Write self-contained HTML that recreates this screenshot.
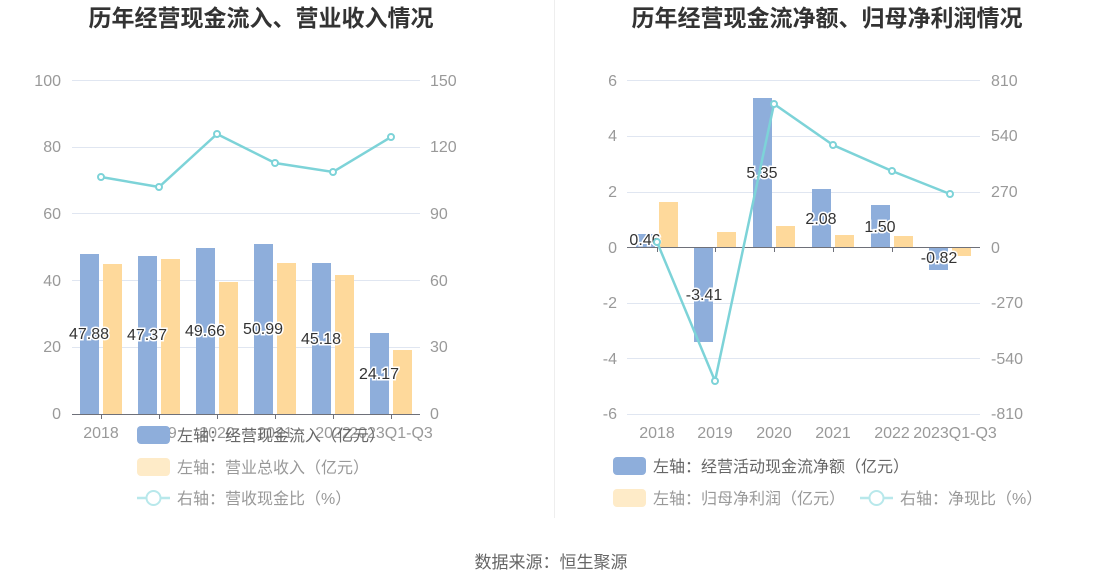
<!DOCTYPE html>
<html><head><meta charset="utf-8"><style>
body{margin:0;background:#fff;}
svg{display:block;font-family:"Liberation Sans","Noto Sans CJK SC",sans-serif;}
</style></head><body>
<svg width="1102" height="588" viewBox="0 0 1102 588">
<text x="261" y="26" text-anchor="middle" font-size="23" font-weight="bold" fill="#333">历年经营现金流入、营业收入情况</text>
<text x="827" y="26" text-anchor="middle" font-size="23" font-weight="bold" fill="#333">历年经营现金流净额、归母净利润情况</text>
<line x1="554.5" y1="0" x2="554.5" y2="518" stroke="#eee"/>
<g stroke="#e0e6f1" stroke-width="1">
<line x1="72" y1="80.5" x2="420" y2="80.5"/><line x1="72" y1="147.5" x2="420" y2="147.5"/><line x1="72" y1="213.5" x2="420" y2="213.5"/><line x1="72" y1="280.5" x2="420" y2="280.5"/><line x1="72" y1="347.5" x2="420" y2="347.5"/>
</g>
<g font-size="16" fill="#999" text-anchor="end">
<text x="61" y="86">100</text><text x="61" y="152">80</text><text x="61" y="219">60</text><text x="61" y="286">40</text><text x="61" y="352">20</text><text x="61" y="419">0</text>
</g>
<g font-size="16" fill="#999" text-anchor="start">
<text x="430" y="86">150</text><text x="430" y="152">120</text><text x="430" y="219">90</text><text x="430" y="286">60</text><text x="430" y="352">30</text><text x="430" y="419">0</text>
</g>
<g fill="#8eaedb">
<rect x="80" y="254" width="19" height="160"/><rect x="138" y="256" width="19" height="158"/><rect x="196" y="248" width="19" height="166"/><rect x="254" y="244" width="19" height="170"/><rect x="312" y="263" width="19" height="151"/><rect x="370" y="333" width="19" height="81"/>
</g>
<g fill="#fed99b">
<rect x="103" y="264" width="19" height="150"/><rect x="161" y="259" width="19" height="155"/><rect x="219" y="282" width="19" height="132"/><rect x="277" y="263" width="19" height="151"/><rect x="335" y="275" width="19" height="139"/><rect x="393" y="350" width="19" height="64"/>
</g>
<line x1="72" y1="414.5" x2="420" y2="414.5" stroke="#6e7079"/>
<g stroke="#6e7079"><line x1="101.5" y1="414" x2="101.5" y2="419"/><line x1="159.5" y1="414" x2="159.5" y2="419"/><line x1="217.5" y1="414" x2="217.5" y2="419"/><line x1="275.5" y1="414" x2="275.5" y2="419"/><line x1="333.5" y1="414" x2="333.5" y2="419"/><line x1="391.5" y1="414" x2="391.5" y2="419"/></g>
<g font-size="16" fill="#999" text-anchor="middle">
<text x="101" y="438">2018</text><text x="159" y="438">2019</text><text x="217" y="438">2020</text><text x="275" y="438">2021</text><text x="333" y="438">2022</text><text x="391" y="438">2023Q1-Q3</text>
</g>
<g font-size="16" fill="#333" text-anchor="middle" stroke="#fff" stroke-width="3" paint-order="stroke">
<text x="89" y="339">47.88</text><text x="147" y="340">47.37</text><text x="205" y="336">49.66</text><text x="263" y="334">50.99</text><text x="321" y="344">45.18</text><text x="379" y="379">24.17</text>
</g>
<polyline points="101,177 159,187 217,134 275,163 333,172 391,137" fill="none" stroke="#7dd3d8" stroke-width="2.5"/>
<g fill="#fff" stroke="#7dd3d8" stroke-width="2"><circle cx="101" cy="177" r="3"/><circle cx="159" cy="187" r="3"/><circle cx="217" cy="134" r="3"/><circle cx="275" cy="163" r="3"/><circle cx="333" cy="172" r="3"/><circle cx="391" cy="137" r="3"/></g>
<rect x="137" y="426" width="33" height="18" rx="4" fill="#8eaedb"/>
<text x="177" y="441" font-size="16" fill="#666">左轴：经营现金流入（亿元）</text>
<rect x="137" y="458" width="33" height="18" rx="4" fill="#feebc8"/>
<text x="177" y="473" font-size="16" fill="#999">左轴：营业总收入（亿元）</text>
<line x1="137" y1="498" x2="170" y2="498" stroke="#b8e8eb" stroke-width="2.5"/><circle cx="153.5" cy="498" r="7" fill="#fff" stroke="#b8e8eb" stroke-width="2"/>
<text x="177" y="504" font-size="16" fill="#999">右轴：营收现金比（%）</text>

<g stroke="#e0e6f1" stroke-width="1">
<line x1="627" y1="80.5" x2="980" y2="80.5"/><line x1="627" y1="136.5" x2="980" y2="136.5"/><line x1="627" y1="192.5" x2="980" y2="192.5"/><line x1="627" y1="303.5" x2="980" y2="303.5"/><line x1="627" y1="358.5" x2="980" y2="358.5"/><line x1="627" y1="414.5" x2="980" y2="414.5"/>
</g>
<g font-size="16" fill="#999" text-anchor="end">
<text x="617" y="86">6</text><text x="617" y="141">4</text><text x="617" y="197">2</text><text x="617" y="253">0</text><text x="617" y="308">-2</text><text x="617" y="364">-4</text><text x="617" y="419">-6</text>
</g>
<g font-size="16" fill="#999" text-anchor="start">
<text x="991" y="86">810</text><text x="991" y="141">540</text><text x="991" y="197">270</text><text x="991" y="253">0</text><text x="991" y="308">-270</text><text x="991" y="364">-540</text><text x="991" y="419">-810</text>
</g>
<g fill="#8eaedb">
<rect x="636" y="234" width="19" height="13"/><rect x="694" y="247" width="19" height="95"/><rect x="753" y="98" width="19" height="149"/><rect x="812" y="189" width="19" height="58"/><rect x="871" y="205" width="19" height="42"/><rect x="929" y="247" width="19" height="23"/>
</g>
<g fill="#fed99b">
<rect x="659" y="202" width="19" height="45"/><rect x="717" y="232" width="19" height="15"/><rect x="776" y="226" width="19" height="21"/><rect x="835" y="235" width="19" height="12"/><rect x="894" y="236" width="19" height="11"/><rect x="952" y="247" width="19" height="9"/>
</g>
<line x1="627" y1="247.5" x2="980" y2="247.5" stroke="#6e7079"/>
<g stroke="#6e7079"><line x1="657.5" y1="247" x2="657.5" y2="252"/><line x1="715.5" y1="247" x2="715.5" y2="252"/><line x1="774.5" y1="247" x2="774.5" y2="252"/><line x1="833.5" y1="247" x2="833.5" y2="252"/><line x1="892.5" y1="247" x2="892.5" y2="252"/></g>
<g font-size="16" fill="#999" text-anchor="middle">
<text x="657" y="438">2018</text><text x="715" y="438">2019</text><text x="774" y="438">2020</text><text x="833" y="438">2021</text><text x="892" y="438">2022</text><text x="955" y="438">2023Q1-Q3</text>
</g>
<g font-size="16" fill="#333" text-anchor="middle" stroke="#fff" stroke-width="3" paint-order="stroke">
<text x="645" y="245">0.46</text><text x="704" y="300">-3.41</text><text x="762" y="178">5.35</text><text x="821" y="224">2.08</text><text x="880" y="232">1.50</text><text x="939" y="263">-0.82</text>
</g>
<polyline points="657,242 715,381 774,104 833,145 892,171 950,194" fill="none" stroke="#7dd3d8" stroke-width="2.5"/>
<g fill="#fff" stroke="#7dd3d8" stroke-width="2"><circle cx="657" cy="242" r="3"/><circle cx="715" cy="381" r="3"/><circle cx="774" cy="104" r="3"/><circle cx="833" cy="145" r="3"/><circle cx="892" cy="171" r="3"/><circle cx="950" cy="194" r="3"/></g>
<rect x="613" y="457" width="33" height="18" rx="4" fill="#8eaedb"/>
<text x="653" y="472" font-size="16" fill="#666">左轴：经营活动现金流净额（亿元）</text>
<rect x="613" y="489" width="33" height="18" rx="4" fill="#feebc8"/>
<text x="653" y="504" font-size="16" fill="#999">左轴：归母净利润（亿元）</text>
<line x1="860" y1="498" x2="893" y2="498" stroke="#b8e8eb" stroke-width="2.5"/><circle cx="876.5" cy="498" r="7" fill="#fff" stroke="#b8e8eb" stroke-width="2"/>
<text x="900" y="504" font-size="16" fill="#999">右轴：净现比（%）</text>

<text x="551" y="568" text-anchor="middle" font-size="17" fill="#666">数据来源：恒生聚源</text>
</svg>
</body></html>
